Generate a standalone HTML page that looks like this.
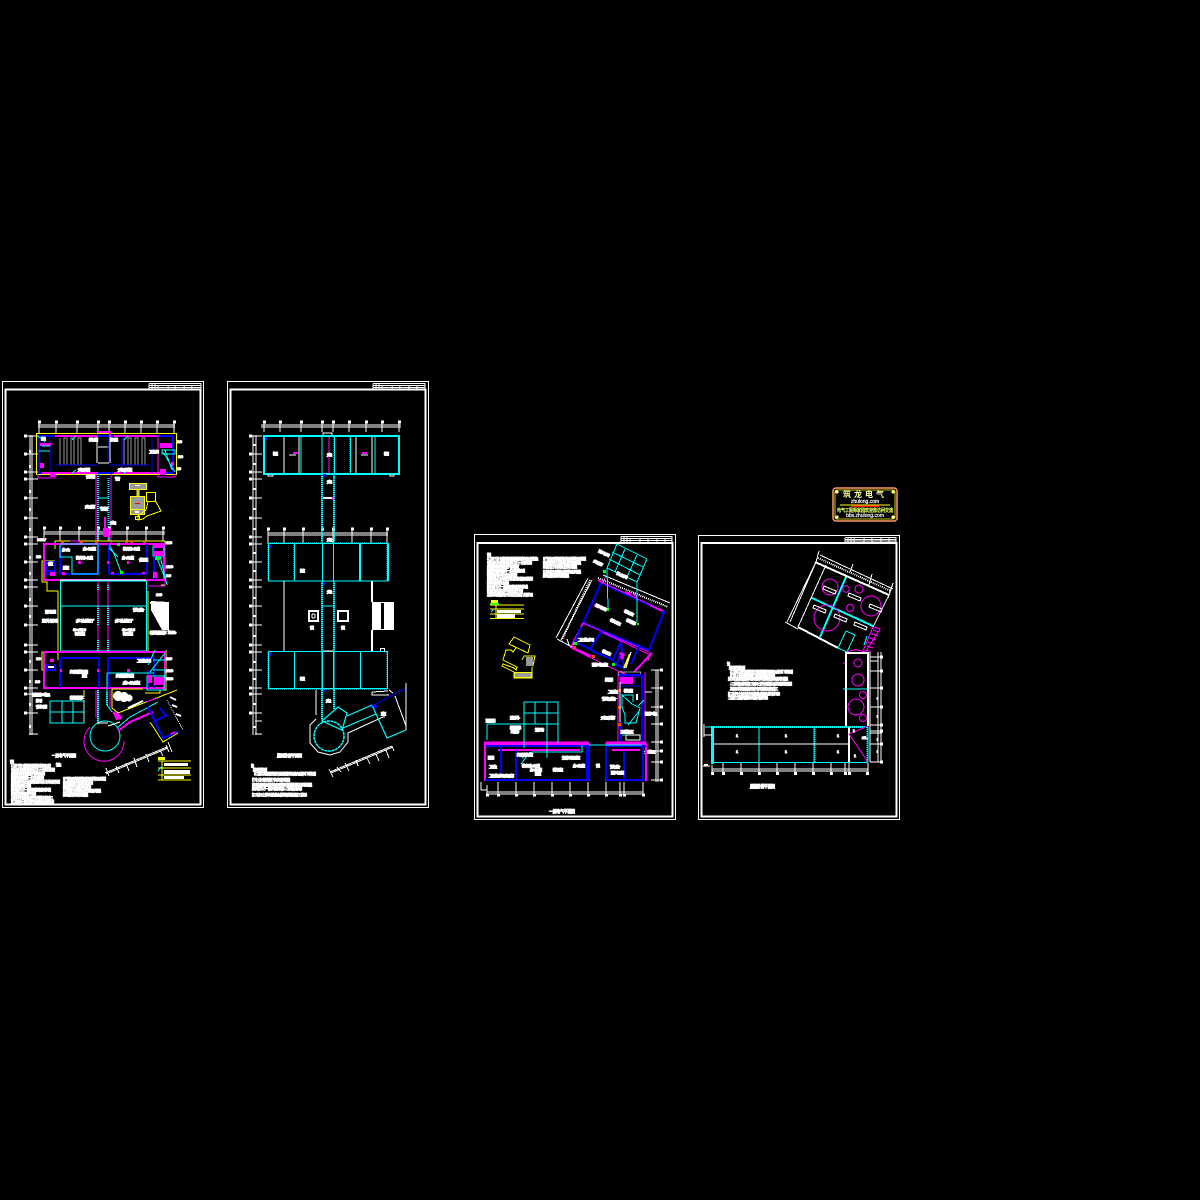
<!DOCTYPE html>
<html lang="zh">
<head>
<meta charset="utf-8">
<title>CAD Drawing Sheets</title>
<style>
html,body{margin:0;padding:0;background:#000;width:1200px;height:1200px;overflow:hidden}
svg{display:block}
path,line,rect,polygon,polyline,circle{fill:none;shape-rendering:crispEdges}
.w{stroke:#fff}.c{stroke:#0ff}.m{stroke:#f0f}.b{stroke:#00f}.y{stroke:#ff0}.g{stroke:#999}
.s1{stroke-width:1}.s2{stroke-width:2}.s3{stroke-width:3}
.d{stroke-dasharray:1 1}
.fo{fill:#f40;stroke:none}.fm{fill:#f0f;stroke:none}.fg{fill:#0f0;stroke:none}.fw{fill:#fff;stroke:none}.fb{fill:#00f;stroke:none}.fgr{fill:#999;stroke:none}.fy{fill:#ff0;stroke:none}
text{font-family:"Liberation Sans","Noto Sans CJK SC",sans-serif}
.t{fill:#fff;stroke:#fff;stroke-width:1;font-size:3.6px}
</style>
</head>
<body>
<svg width="1200" height="1200" viewBox="0 0 1200 1200" xmlns="http://www.w3.org/2000/svg">
<rect width="1200" height="1200" style="fill:#000"/>

<!-- SHEET FRAMES -->
<g class="w s1">
<rect x="2.5" y="381.5" width="201" height="426"/><rect x="5.5" y="389.5" width="195" height="415" class="w s2"/>
<rect x="227.5" y="381.5" width="201" height="426"/><rect x="230.5" y="389.5" width="195" height="415" class="w s2"/>
<rect x="474.5" y="534.5" width="201" height="285"/><rect x="477.5" y="543" width="195" height="273.5" class="w s2"/>
<rect x="698.5" y="535.5" width="201" height="284"/><rect x="701.5" y="543" width="195" height="273.5" class="w s2"/>
</g>
<!-- TITLE BLOCKS -->
<g class="w s1">
<path d="M149 383.5H201V389M149 383.5V389M149 385.5H201M149 387.5H201M152 383V389M155 383V389M158 385V389M168 385V389M175 385V389M184 385V389M192 385V389"/>
<path d="M373 383.5H425V390M373 383.5V390M373 385.5H425M373 387.5H425M376 383V390M379 383V390M382 385V390M392 385V390M400 385V390M409 385V390M417 385V390"/>
<path d="M621 536.5H672V543M621 536.5V543M621 538.5H672M621 540.5H672M624 536V543M627 536V543M630 538V543M640 538V543M648 538V543M657 538V543M665 538V543"/>
<path d="M845 537.5H896V543M845 537.5V543M845 539.5H896M845 541H896M848 537V543M851 537V543M854 538V543M864 538V543M872 538V543M881 538V543M889 538V543"/>
</g>

<!-- ========== SHEET 1 ========== -->
<g class="w s1">
<path d="M38 425H175M38 427H175"/>
<path d="M39 421V433M56 421V433M77 421V433M98 421V433M109 421V433M125 421V433M141 421V433M157 421V433M174 421V433"/>
<path d="M44 532H165M44 534H165"/>
<path d="M44 527V541M60 527V541M79 527V541M98 527V541M109 527V541M127 527V541M146 527V541M163 527V541"/>
<path d="M30 435V735M32 435V735"/>
<path d="M25 436H38M25 454H38M25 472H38M25 479H38M25 498H38M25 518H38M25 537H38M25 544H38M25 562H38M25 580H38M25 587H38M25 606H38M25 625H38M25 645H38M25 652H38M25 670H38M25 688H38M25 694H38M25 713H38M29 734H38"/>
</g>
<path class="w s3" d="M38 422h3M55 422h3M76 422h3M97 422h3M108 422h3M124 422h3M140 422h3M156 422h3M173 422h3M43 528h3M59 528h3M78 528h3M97 528h3M108 528h3M126 528h3M145 528h3M162 528h3M24 436h3M24 454h3M24 472h3M24 479h3M24 498h3M24 518h3M24 537h3M24 544h3M24 562h3M24 580h3M24 587h3M24 606h3M24 625h3M24 645h3M24 652h3M24 670h3M24 688h3M24 694h3M24 713h3"/>
<path class="w s2" d="M30 450v3M30 465v3M30 490v3M30 508v3M30 528v3M30 556v3M30 572v3M30 598v3M30 615v3M30 660v3M30 680v3M30 703v3M30 725v3"/>
<!-- top block -->
<rect class="y s1" x="36.5" y="433.5" width="140" height="41"/>
<rect class="b s2" x="39" y="436" width="134" height="37"/>
<path class="m s2" d="M55 436H98M114 436H157M42 473H98M114 473H160"/>
<path class="m s2" d="M98 432H110V437"/>
<path class="m s1" d="M38 474V478H55V474M158 474V477H175V474M158 436V473"/>
<g class="g s1">
<path d="M60 438V465H64V438H67V465H71V438H74V465H78V438H81V465H84"/>
<path d="M124 438V465H128V438H131V465H135V438H138V465H142V438H145V465H149"/>
</g>
<path class="w s1" d="M97 437V463M110 437V463M98 447H109M98 463H109"/>
<path class="b s1" d="M50 438V473M108 436V462M122 436V473M152 438V473M97 465H55M110 465H150"/>
<rect class="fm" x="40" y="443" width="11" height="3"/><rect class="fm" x="160" y="443" width="12" height="5"/><rect class="fm" x="40" y="463" width="4" height="5"/><rect class="fm" x="50" y="472" width="5" height="5"/><rect class="fm" x="160" y="469" width="6" height="6"/><rect class="fm" x="171" y="462" width="3" height="4"/>
<path class="c s1" d="M42 446H50M39 451H50M38 436L45 442M76 436L72 440M128 436L124 440M162 450H175V454H162ZM163 452L175 472M165 450L172 470M72 473L76 470M124 473L128 470"/>
<g><text class="t" x="41" y="440" textLength="5" lengthAdjust="spacingAndGlyphs">配电</text><text class="t" x="89" y="441" textLength="9" lengthAdjust="spacingAndGlyphs">教室</text><text class="t" x="110" y="441" textLength="8" lengthAdjust="spacingAndGlyphs">教室</text><text class="t" x="149" y="453" textLength="10" lengthAdjust="spacingAndGlyphs">卫生间</text><text class="t" x="78" y="471" textLength="12" lengthAdjust="spacingAndGlyphs">走道</text><text class="t" x="118" y="471" textLength="14" lengthAdjust="spacingAndGlyphs">走道</text><text class="t" x="177" y="443" textLength="5" lengthAdjust="spacingAndGlyphs">10</text><text class="t" x="178" y="458" textLength="5" lengthAdjust="spacingAndGlyphs">10</text><text class="t" x="177" y="470" textLength="4" lengthAdjust="spacingAndGlyphs">10</text></g>
<!-- corridor -->
<path class="m s1" d="M96 474V545M111 474V545"/>
<path class="c s2 d" d="M98 474V541M108.500 478V541"/>
<path class="c s1" d="M98 498H109"/>
<path class="m s2" d="M105 517V536H110"/>
<rect class="fm" x="103" y="528" width="6" height="8"/>
<g><text class="t" x="85" y="508" textLength="10" lengthAdjust="spacingAndGlyphs">走廊</text><text class="t" x="100" y="510" textLength="8" lengthAdjust="spacingAndGlyphs">管</text><text class="t" x="110" y="524" textLength="6" lengthAdjust="spacingAndGlyphs">走</text><text class="t" x="115" y="480" textLength="5" lengthAdjust="spacingAndGlyphs">管</text><text class="t" x="86" y="478" textLength="9" lengthAdjust="spacingAndGlyphs">说明</text></g>
<!-- yellow detail -->
<g>
<rect class="fgr" x="130" y="484" width="16" height="5"/><rect class="fgr" x="131" y="497" width="13" height="13"/><rect class="fgr" x="131" y="510" width="13" height="4"/><rect class="fgr" x="137" y="489" width="2" height="7"/>
<rect class="y s1" x="129.500" y="483.500" width="17" height="6"/><rect class="y s1" x="130.500" y="496.500" width="14" height="13"/><rect class="y s1" x="130.500" y="509.500" width="14" height="5"/>
<path class="y s1" d="M137 490V496M139 490V496"/>
<rect class="y s1" x="146.500" y="492.500" width="9" height="9"/>
<path class="y s1" d="M148 502L146 510L138 516L138 520L143 519L147 516L161 511L155 500"/>
<rect class="y s1" x="135.500" y="516.500" width="4" height="3"/>
<rect class="fw" x="135" y="485" width="5" height="1"/><rect class="fw" x="135" y="511" width="4" height="2"/><rect style="fill:#f00" x="135" y="503" width="5" height="1"/>
</g>
<!-- middle block -->
<path class="y s1" d="M55 549V541H165V585H161M55 541"/>
<path class="y s1" d="M42 582V561H55M42 582H47V591H58V660M148 591V652"/>
<rect class="m s2" x="44" y="544" width="120" height="36" />
<path class="m s1" d="M70 541H79V544M154 544H165V586H148"/>
<path class="b s2" d="M60 544V574M98 544V574M60 574H98M109 544V574M109 574H148M147 544V574M45 562H55V574H45M154 544V580"/>
<path class="c s1" d="M60 544V557H72V574H98V544H60M72 557M60 544H98"/>
<path class="c s1" d="M109 544L115 556L121 572M118 557L109 548M153 546H164V556H153ZM156 556L165 578M160 556L167 585"/>
<rect class="fm" x="78" y="561" width="3" height="3"/><rect class="fm" x="127" y="561" width="2" height="3"/><rect class="fm" x="107" y="561" width="2" height="3"/><rect class="fm" x="50" y="571" width="5" height="5"/><rect class="fm" x="62" y="572" width="3" height="3"/><rect class="fm" x="111" y="572" width="3" height="2"/><rect class="fm" x="142" y="572" width="3" height="2"/><rect class="fm" x="153" y="551" width="11" height="5"/><rect class="fm" x="153" y="544" width="11" height="4"/><rect class="fm" x="153" y="572" width="4" height="6"/><rect class="fg" x="117" y="543" width="3" height="3"/><rect class="fg" x="120" y="571" width="3" height="3"/><rect class="fg" x="155" y="557" width="5" height="3"/>
<rect class="fo" x="95" y="541" width="3" height="2"/><rect class="fo" x="125" y="541" width="3" height="2"/><rect class="fo" x="130" y="541" width="3" height="2"/><rect class="fo" x="143" y="541" width="3" height="2"/><rect class="fo" x="61" y="541" width="3" height="2"/><rect class="fo" x="80" y="541" width="3" height="2"/>
<rect class="b s2" x="46" y="562" width="9" height="9"/>
<g><text class="t" x="62" y="551" textLength="8" lengthAdjust="spacingAndGlyphs">办公</text><text class="t" x="83" y="550" textLength="13" lengthAdjust="spacingAndGlyphs">办公室</text><text class="t" x="76" y="559" textLength="17" lengthAdjust="spacingAndGlyphs">教师办公室</text><text class="t" x="123" y="550" textLength="17" lengthAdjust="spacingAndGlyphs">教师办公室</text><text class="t" x="122" y="559" textLength="12" lengthAdjust="spacingAndGlyphs">办公室</text><text class="t" x="139" y="561" textLength="9" lengthAdjust="spacingAndGlyphs">值班</text><text class="t" x="63" y="569" textLength="6" lengthAdjust="spacingAndGlyphs">室</text><text class="t" x="37" y="541" textLength="9" lengthAdjust="spacingAndGlyphs">10kV</text><text class="t" x="48" y="565" textLength="5" lengthAdjust="spacingAndGlyphs">值</text><text class="t" x="36" y="558" textLength="5" lengthAdjust="spacingAndGlyphs">10</text><text class="t" x="166" y="544" textLength="6" lengthAdjust="spacingAndGlyphs">10</text><text class="t" x="166" y="568" textLength="7" lengthAdjust="spacingAndGlyphs">10</text><text class="t" x="166" y="577" textLength="5" lengthAdjust="spacingAndGlyphs">10</text></g>
<!-- central hall -->
<rect class="c s1" x="60.500" y="581" width="86" height="70"/>
<path class="w s1" d="M60 580H146"/>
<path class="c s1" d="M60 606H146"/>
<path class="m s1" d="M98 581V651M108 581V651"/>
<path class="c s2 d" d="M98 585V591M98 640V651M108 585V591M108 640V651M98 606V625M108 606V625"/>
<g class="fm"><rect x="78" y="586" width="2" height="2"/><rect x="127" y="586" width="2" height="2"/><rect x="78" y="605" width="2" height="2"/><rect x="127" y="605" width="2" height="2"/><rect x="78" y="625" width="2" height="2"/><rect x="127" y="625" width="2" height="2"/><rect x="78" y="644" width="2" height="2"/><rect x="127" y="644" width="2" height="2"/></g>
<g class="fg"><rect x="61" y="623" width="3" height="3"/><rect x="95" y="623" width="3" height="3"/><rect x="109" y="623" width="4" height="3"/><rect x="143" y="623" width="3" height="3"/></g>
<g class="fo"><rect x="57" y="605" width="3" height="3"/><rect x="57" y="624" width="3" height="3"/><rect x="147" y="624" width="3" height="3"/><rect x="57" y="644" width="3" height="3"/></g>
<g><text class="t" x="76" y="622" textLength="18" lengthAdjust="spacingAndGlyphs">多功能厅</text><text class="t" x="115" y="622" textLength="18" lengthAdjust="spacingAndGlyphs">多功能厅</text><text class="t" x="73" y="631" textLength="13" lengthAdjust="spacingAndGlyphs">S=110</text><text class="t" x="122" y="631" textLength="13" lengthAdjust="spacingAndGlyphs">S=110</text><text class="t" x="75" y="635" textLength="10" lengthAdjust="spacingAndGlyphs">教室</text><text class="t" x="123" y="635" textLength="10" lengthAdjust="spacingAndGlyphs">教室</text><text class="t" x="45" y="613" textLength="11" lengthAdjust="spacingAndGlyphs">活动室</text><text class="t" x="42" y="622" textLength="16" lengthAdjust="spacingAndGlyphs">室外活动</text><text class="t" x="133" y="611" textLength="11" lengthAdjust="spacingAndGlyphs">设备</text><text class="t" x="150" y="634" textLength="16" lengthAdjust="spacingAndGlyphs">楼梯</text><text class="t" x="168" y="634" textLength="8" lengthAdjust="spacingAndGlyphs">10</text><text class="t" x="156" y="596" textLength="6" lengthAdjust="spacingAndGlyphs">10</text></g>
<!-- ramp at right -->
<polygon class="fw" points="151,601 169,602 169,630 162,630 151,610"/>
<path class="w s1" d="M150 602L170 632M150 631H175"/>
<!-- lower block -->
<path class="y s1" d="M58 652H42V670H47M166 650V690H160V693H145M47 688H145"/>
<rect class="m s2" x="44" y="652" width="121" height="36"/>
<path class="b s2" d="M60 658V688M60 658H99M99 658V688M108 658V688M108 658H154M154 658V688M46 664V670H55V664M46 670H55M148 670V688"/>
<path class="c s1" d="M107 673H154M107 673V690M153 660H166M153 670H165V678M147 676H164V690H147ZM155 650L148 665M165 653L150 672"/>
<path class="c s1 d" d="M107 673V688"/>
<rect class="fm" x="154" y="677" width="10" height="8"/><rect class="fm" x="148" y="675" width="4" height="8"/><rect class="fm" x="78" y="669" width="3" height="3"/><rect class="fm" x="127" y="669" width="3" height="3"/><rect class="fm" x="60" y="669" width="2" height="3"/><rect class="fm" x="97" y="669" width="2" height="3"/><rect class="fm" x="50" y="659" width="4" height="3"/>
<rect class="fb" x="46" y="664" width="4" height="4"/><rect class="fw" x="48" y="666" width="6" height="2"/>
<g class="fg"><rect x="133" y="657" width="3" height="3"/><rect x="60" y="684" width="3" height="3"/><rect x="87" y="685" width="3" height="3"/><rect x="138" y="685" width="3" height="3"/></g>
<g><text class="t" x="70" y="673" textLength="18" lengthAdjust="spacingAndGlyphs">舞蹈教室</text><text class="t" x="82" y="677" textLength="5" lengthAdjust="spacingAndGlyphs">室</text><text class="t" x="116" y="677" textLength="18" lengthAdjust="spacingAndGlyphs">舞蹈教室</text><text class="t" x="123" y="684" textLength="17" lengthAdjust="spacingAndGlyphs">办公室</text><text class="t" x="137" y="662" textLength="14" lengthAdjust="spacingAndGlyphs">卫生间</text><text class="t" x="166" y="660" textLength="6" lengthAdjust="spacingAndGlyphs">10</text><text class="t" x="166" y="672" textLength="7" lengthAdjust="spacingAndGlyphs">10</text><text class="t" x="166" y="680" textLength="7" lengthAdjust="spacingAndGlyphs">10</text><text class="t" x="36" y="660" textLength="5" lengthAdjust="spacingAndGlyphs">10</text><text class="t" x="35" y="683" textLength="5" lengthAdjust="spacingAndGlyphs">10</text><text class="t" x="33" y="696" textLength="17" lengthAdjust="spacingAndGlyphs">配电</text><text class="t" x="36" y="702" textLength="6" lengthAdjust="spacingAndGlyphs">间</text><text class="t" x="36" y="708" textLength="11" lengthAdjust="spacingAndGlyphs">说明</text><text class="t" x="70" y="699" textLength="13" lengthAdjust="spacingAndGlyphs">楼梯</text></g>
<!-- south yard -->
<rect class="c s1" x="50" y="701" width="34" height="22"/>
<path class="c s1" d="M62 701V723M73 701V723M50 712H84"/>
<path class="w s1 d" d="M84 690V722"/>
<path class="y s1" d="M84 690V696M112 689H143M112 689V708L118 713L177 690"/>
<circle style="fill:#fff;stroke:none" cx="118" cy="696" r="5"/><circle style="fill:#fff;stroke:none" cx="124" cy="697" r="5"/><circle style="fill:#fff;stroke:none" cx="129" cy="698" r="3.500"/>
<!-- circle tail -->
<circle class="c s1" cx="105" cy="736" r="15" style="shape-rendering:auto"/>
<path class="m s1" d="M90 727A20 20 0 1 0 124 741" style="shape-rendering:auto"/>
<path class="c s2 d" d="M98 690V722M107 692V705" />
<path class="m s1" d="M96 690V718M110 690V708"/>
<path class="c s1" d="M98 690V724M107 690V705L112 712"/>
<path class="w s1" d="M97 723H108"/>
<polygon class="fm" points="112,711 120,714 122,719 116,720"/>
<path class="c s1" d="M117 728L130 717L158 702"/>
<path class="m s2" d="M118 731L130 722L153 712"/>
<path class="m s1" d="M145 702L158 698"/>
<path class="w s1" d="M108 726L120 722"/>
<path class="w s2" d="M128 708L143 701"/>
<!-- rotated wing -->
<path class="y s1" d="M150 722L163 742L178 733"/>
<path class="b s2" d="M148 707L163 738L177 732M153 722L167 715M160 708L167 717"/>
<path class="w s1 d" d="M167 700L183 730"/>
<path class="w s2" d="M170 697L176 700M172 705L177 707M176 714L181 716"/>
<path class="m s2" d="M171 734L175 732"/>
<!-- diagonal dim -->
<path class="w s1" d="M105 773L167 747M106 774L168 748"/>
<path class="w s1" d="M106 768L109 776M116 766L119 773M126 763L129 771M134 758L137 767M146 754L149 762M160 750L163 756M166 745L169 752M168 742L172 752"/>
<!-- title + notes sheet 1 -->
<g>
<text class="t" x="52" y="757" textLength="24" lengthAdjust="spacingAndGlyphs" style="font-size:4px">一层电气平面图</text>
<text class="t" x="10" y="763" textLength="4" lengthAdjust="spacingAndGlyphs">说明</text>
<text class="t" x="11" y="767" textLength="40" lengthAdjust="spacingAndGlyphs">本工程电气设计包括照明配电插座线路系统等内容及做法</text>
<text class="t" x="11" y="771" textLength="44" lengthAdjust="spacingAndGlyphs">电源由室外变电所引来电压等级三百八十伏供配电系统说明</text>
<text class="t" x="11" y="775" textLength="34" lengthAdjust="spacingAndGlyphs">所有线路均穿钢管暗敷设于墙内或楼板内</text>
<text class="t" x="11" y="779" textLength="33" lengthAdjust="spacingAndGlyphs">照明配电箱底边距地一点五米暗装安装</text>
<text class="t" x="11" y="783" textLength="49" lengthAdjust="spacingAndGlyphs">插座除注明外均为安全型暗装底边距地零点三米具体做法详见图</text>
<text class="t" x="11" y="787" textLength="20" lengthAdjust="spacingAndGlyphs">接地系统采用联合接地</text>
<text class="t" x="11" y="791" textLength="40" lengthAdjust="spacingAndGlyphs">接地电阻不大于一欧姆利用基础钢筋作接地极</text>
<text class="t" x="11" y="795" textLength="25" lengthAdjust="spacingAndGlyphs">防雷做法详见防雷平面图</text>
<text class="t" x="11" y="799" textLength="42" lengthAdjust="spacingAndGlyphs">其他未尽事宜按国家现行有关规范及规定施工</text>
<text class="t" x="11" y="803" textLength="43" lengthAdjust="spacingAndGlyphs">施工时应与土建及设备专业密切配合预留孔洞</text>
<text class="t" x="56" y="766" textLength="5" lengthAdjust="spacingAndGlyphs">注</text>
<text class="t" x="63" y="780" textLength="43" lengthAdjust="spacingAndGlyphs">电气设备安装高度详见设备材料表及系统图</text>
<text class="t" x="63" y="784" textLength="30" lengthAdjust="spacingAndGlyphs">配电箱安装方式说明及做法</text>
<text class="t" x="63" y="788" textLength="28" lengthAdjust="spacingAndGlyphs">线路敷设方式说明及做法</text>
<text class="t" x="63" y="792" textLength="38" lengthAdjust="spacingAndGlyphs">灯具安装方式说明及做法详见相关图集</text>
<text class="t" x="63" y="796" textLength="25" lengthAdjust="spacingAndGlyphs">接地做法说明详见图集</text>
</g>
<!-- legend 1 -->
<g>
<rect class="fy" x="158" y="757" width="7" height="3"/>
<path class="y s1" d="M158 761H191M162 761V780M158 768H191M158 775H191M158 780H191"/>
<rect class="fw" x="164" y="763" width="24" height="3"/><rect class="fw" x="164" y="770" width="26" height="4"/><rect class="fw" x="164" y="776" width="20" height="3"/>
<path class="c s1" d="M158 771L161 767"/>
</g>

<!-- ========== SHEET 2 ========== -->
<g class="w s1">
<path d="M261 425H401M261 427H401"/>
<path d="M264 421V432M280 422V432M301 422V432M322 421V432M333 421V432M349 421V432M366 421V432M382 421V432M399 421V432"/>
<path d="M268 533H388M268 535H388"/>
<path d="M268 529V543M284 529V543M303 529V543M322 528V543M333 528V543M352 529V543M371 529V543M387 529V543"/>
<path d="M253 435V735M256 435V735"/>
<path d="M249 436H262M249 454H262M249 472H262M249 479H262M249 498H262M249 518H262M249 537H262M249 544H262M249 562H262M249 580H262M249 587H262M249 606H262M249 625H262M249 645H262M249 652H262M249 670H262M249 688H262M249 694H262M249 713H262M255 721H262M255 734H262"/>
</g>
<path class="w s3" d="M263 422h3M279 422h3M300 422h3M321 422h3M332 422h3M348 422h3M365 422h3M381 422h3M398 422h3M267 529h3M283 529h3M302 529h3M321 529h3M332 529h3M351 529h3M370 529h3M386 529h3M249 436h3M249 454h3M249 472h3M249 479h3M249 498h3M249 518h3M249 537h3M249 544h3M249 562h3M249 580h3M249 587h3M249 606h3M249 625h3M249 645h3M249 652h3M249 670h3M249 688h3M249 694h3M249 713h3"/>
<path class="w s3" d="M255 444v2M255 463v2M255 488v2M255 508v2M255 528v2M255 552v2M255 570v2M255 597v2M255 615v2M255 635v2M255 661v2M255 678v2M255 703v2M255 726v2"/>
<!-- top block -->
<rect class="c s2" x="264" y="436" width="135" height="38"/>
<path class="w s1" d="M284 437V473M299 437V473M356 437V473M372 437V473"/>
<path class="c s1" d="M301 437V473M322 437V473M375 437V473"/>
<path class="c s1 d" d="M334 437V473M350 437V473M375 437V473"/>
<path class="c s1" d="M334.500 437V473M350.500 437V473"/>
<path class="m s1" d="M329 437V473"/>
<rect class="fb" x="265" y="437" width="3" height="3"/><rect class="fb" x="323" y="474" width="3" height="3"/>
<rect class="fm" x="293" y="452" width="5" height="2"/><rect class="fm" x="362" y="452" width="5" height="2"/>
<path class="w s1" d="M289 455H296M361 455H368M268 474v2h5v-2M390 474v2h4v-2M323 435v-2h9v2"/>
<g><text class="t" x="273" y="455" textLength="5" lengthAdjust="spacingAndGlyphs">教室</text><text class="t" x="327" y="456" textLength="5" lengthAdjust="spacingAndGlyphs">走</text><text class="t" x="384" y="455" textLength="5" lengthAdjust="spacingAndGlyphs">教室</text><text class="t" x="327" y="483" textLength="5" lengthAdjust="spacingAndGlyphs">走</text></g>
<!-- corridor -->
<path class="c s2 d" d="M322 474V541M334 474V541"/>
<path class="c s1" d="M322 474V542M334 474V542"/>
<path class="w s2" d="M323 498H332"/>
<rect class="fm" x="332" y="497" width="1" height="3"/>
<!-- middle block -->
<rect class="c s1" x="268.500" y="543.500" width="119" height="37.500"/>
<path class="c s1 d" d="M268 543V581M294 543V581M387 543V581M268 543H388"/>
<path class="c s1" d="M294.500 544V580M322.500 544V582M333.500 544V582"/>
<path class="c s2" d="M360 544V581M388 543V581"/>
<g class="fo"><rect x="276" y="541" width="3" height="2"/><rect x="287" y="541" width="3" height="2"/><rect x="300" y="541" width="3" height="2"/><rect x="305" y="541" width="3" height="2"/><rect x="318" y="541" width="3" height="2"/><rect x="335" y="541" width="3" height="2"/><rect x="348" y="541" width="3" height="2"/><rect x="354" y="541" width="3" height="2"/><rect x="367" y="541" width="3" height="2"/>
<rect x="286" y="581" width="3" height="2"/><rect x="300" y="581" width="3" height="2"/><rect x="305" y="581" width="3" height="2"/><rect x="318" y="581" width="3" height="2"/><rect x="335" y="581" width="3" height="2"/><rect x="348" y="581" width="3" height="2"/><rect x="354" y="581" width="3" height="2"/><rect x="367" y="581" width="3" height="2"/>
<rect x="286" y="649" width="3" height="2"/><rect x="300" y="649" width="3" height="2"/><rect x="305" y="649" width="3" height="2"/><rect x="318" y="649" width="3" height="2"/><rect x="335" y="649" width="3" height="2"/><rect x="348" y="649" width="3" height="2"/><rect x="354" y="649" width="3" height="2"/><rect x="367" y="649" width="3" height="2"/>
<rect x="276" y="689" width="3" height="2"/><rect x="287" y="689" width="3" height="2"/><rect x="300" y="689" width="3" height="2"/><rect x="305" y="689" width="3" height="2"/><rect x="318" y="689" width="3" height="2"/><rect x="335" y="689" width="3" height="2"/><rect x="348" y="689" width="3" height="2"/><rect x="354" y="689" width="3" height="2"/><rect x="367" y="689" width="3" height="2"/></g>
<rect class="fb" x="269" y="545" width="3" height="3"/><rect class="fb" x="323" y="582" width="3" height="3"/><rect class="fb" x="269" y="653" width="3" height="3"/><rect class="fb" x="323" y="689" width="3" height="3"/>
<text class="t" x="300" y="572" textLength="5" lengthAdjust="spacingAndGlyphs">教室</text><text class="t" x="327" y="541" textLength="5" lengthAdjust="spacingAndGlyphs">走</text><text class="t" x="327" y="593" textLength="5" lengthAdjust="spacingAndGlyphs">走</text>
<!-- hall -->
<path class="w s1" d="M284 581V651"/>
<path class="w s2" d="M372 581V602M372 630V651"/>
<path class="c s2 d" d="M322 583V651M334 583V651"/>
<path class="c s1" d="M322 581V690M334 581V690M322 606H334"/>
<rect class="w s2" x="309" y="611" width="9" height="10"/><path class="w s1" d="M312 614H315M312 618H315M312 614V618M315 614V618"/>
<rect class="w s2" x="338" y="611" width="10" height="10"/>
<rect style="fill:#fff" x="372" y="602" width="22" height="28"/><rect style="fill:#000" x="381" y="603" width="3" height="26"/>
<text class="t" x="310" y="629" textLength="4" lengthAdjust="spacingAndGlyphs">说</text><text class="t" x="341" y="629" textLength="4" lengthAdjust="spacingAndGlyphs">说</text>
<rect class="w s1" x="380.500" y="648.500" width="4" height="3"/>
<!-- lower block -->
<rect class="c s1" x="268.500" y="651.500" width="119" height="37"/>
<path class="w s1" d="M323 651H333"/>
<path class="c s1 d" d="M268 652V688M387 652V688M268 689H388"/>
<path class="c s1" d="M294.500 652V688M322.500 652V690M333.500 652V690M360.500 652V688"/>
<text class="t" x="300" y="680" textLength="5" lengthAdjust="spacingAndGlyphs">教室</text>
<path class="w s1" d="M316 690V715"/>
<path class="c s2 d" d="M322 690V720M334 690V709"/>
<path class="c s1" d="M322 690V722M334 690V709"/>
<text class="t" x="326" y="702" textLength="5" lengthAdjust="spacingAndGlyphs">走</text>
<!-- circle & wing -->
<circle class="c" cx="329" cy="736" r="15" style="shape-rendering:auto;stroke-width:1.500;stroke-dasharray:3 .6"/>
<path class="w s1" d="M316 719L310 725V743L318 752L330 755L340 752L348 742V733L383 717H385" style="shape-rendering:auto"/>
<path class="c" d="M322 721L338 707L347 713L342 730L322 721" style="shape-rendering:auto;stroke-width:1.200"/>
<path class="c" d="M347 716L372 705M343 728L376 714M372 705L387 738L406 730" style="stroke-width:1.200;shape-rendering:auto"/>
<path class="b s1" d="M370 707L406 688"/>
<path class="w s1" d="M406 683V730M395 696L406 726"/>
<path class="w s1" d="M372 692L388 691M372 692V695H389M389 690L393 693"/>
<rect class="fb" x="374" y="705" width="3" height="3"/>
<g class="fm"><rect x="328" y="722" width="3" height="3"/><rect x="334" y="723" width="2" height="3"/><rect x="341" y="720" width="2" height="2"/><rect x="327" y="714" width="2" height="2"/><rect x="361" y="711" width="3" height="2"/><rect x="360" y="715" width="2" height="2"/><rect x="316" y="733" width="2" height="3"/><rect x="321" y="730" width="2" height="2"/><rect x="324" y="740" width="2" height="2"/><rect x="335" y="736" width="2" height="2"/><rect x="338" y="741" width="2" height="3"/></g>
<text class="t" x="381" y="715" textLength="5" lengthAdjust="spacingAndGlyphs">室</text>
<path class="w s1" d="M330 772L392 746M331 773L393 747"/>
<path class="w s1" d="M329 769L333 777M337 767L341 772M345 763L349 771M356 760L358 766M367 758L370 764M376 754L379 761M386 750L389 758M392 746L394 751"/>
<!-- title + notes sheet 2 -->
<g>
<text class="t" x="277" y="757" textLength="25" lengthAdjust="spacingAndGlyphs" style="font-size:4px">屋面防雷平面图</text>
<text class="t" x="251" y="767" textLength="3" lengthAdjust="spacingAndGlyphs">注</text>
<text class="t" x="253" y="771" textLength="14" lengthAdjust="spacingAndGlyphs">防雷说明</text>
<text class="t" x="254" y="775" textLength="62" lengthAdjust="spacingAndGlyphs">本工程按三类防雷建筑物设计屋面设避雷带利用柱内主筋作引下线详见图</text>
<text class="t" x="252" y="781" textLength="38" lengthAdjust="spacingAndGlyphs">引下线上端与避雷带焊接下端与接地极可靠连接</text>
<text class="t" x="252" y="786" textLength="60" lengthAdjust="spacingAndGlyphs">所有突出屋面的金属物体均应与避雷带可靠焊接做法详见相关标准图集</text>
<text class="t" x="252" y="790" textLength="50" lengthAdjust="spacingAndGlyphs">接地电阻不大于一欧姆不满足时增设人工接地极及接地体</text>
<text class="t" x="252" y="796" textLength="55" lengthAdjust="spacingAndGlyphs">施工时应与土建专业密切配合做好预留预埋及隐蔽工程记录</text>
</g>

<!-- ========== SHEET 3 ========== -->
<g>
<text class="t" x="487" y="556" textLength="4" lengthAdjust="spacingAndGlyphs">说明</text>
<text class="t" x="487" y="560" textLength="46" lengthAdjust="spacingAndGlyphs">本工程电气设计包括照明配电插座线路系统等内容及做法</text>
<text class="t" x="487" y="564" textLength="45" lengthAdjust="spacingAndGlyphs">电源由室外变电所引来电压等级三百八十伏供配电系统</text>
<text class="t" x="487" y="568" textLength="32" lengthAdjust="spacingAndGlyphs">所有线路均穿钢管暗敷设于墙内或楼板</text>
<text class="t" x="487" y="572" textLength="38" lengthAdjust="spacingAndGlyphs">照明配电箱底边距地一点五米暗装安装</text>
<text class="t" x="487" y="576" textLength="30" lengthAdjust="spacingAndGlyphs">插座除注明外均为安全型暗装</text>
<text class="t" x="487" y="580" textLength="46" lengthAdjust="spacingAndGlyphs">底边距地零点三米具体做法详见相关标准图集及规范说明</text>
<text class="t" x="487" y="584" textLength="22" lengthAdjust="spacingAndGlyphs">接地系统采用联合接地</text>
<text class="t" x="487" y="588" textLength="41" lengthAdjust="spacingAndGlyphs">接地电阻不大于一欧姆利用基础钢筋作接地极</text>
<text class="t" x="487" y="592" textLength="36" lengthAdjust="spacingAndGlyphs">防雷做法详见防雷平面图及设计说明</text>
<text class="t" x="487" y="596" textLength="46" lengthAdjust="spacingAndGlyphs">其他未尽事宜按国家现行有关规范及规定施工并做好记录</text>
<text class="t" x="533" y="560" textLength="5" lengthAdjust="spacingAndGlyphs">注</text>
<text class="t" x="543" y="560" textLength="43" lengthAdjust="spacingAndGlyphs">电气设备安装高度详见设备材料表及系统图</text>
<text class="t" x="543" y="564" textLength="38" lengthAdjust="spacingAndGlyphs">配电箱安装方式说明及做法详见图集</text>
<text class="t" x="543" y="568" textLength="34" lengthAdjust="spacingAndGlyphs">线路敷设方式说明及做法详见图集</text>
<text class="t" x="543" y="573" textLength="38" lengthAdjust="spacingAndGlyphs">灯具安装方式说明及做法详见相关图集</text>
<text class="t" x="543" y="577" textLength="26" lengthAdjust="spacingAndGlyphs">接地做法说明详见图集</text>
</g>
<!-- legend 3 -->
<g>
<rect class="fy" x="491" y="600" width="7" height="3"/><rect class="fg" x="490" y="603" width="9" height="2"/>
<path class="y s1" d="M490 605H524M496 605V618M490 609H524M490 614H524M490 618.500H524"/>
<rect class="fw" x="497" y="610" width="24" height="3"/><rect class="fw" x="497" y="614" width="18" height="4"/>
<path class="c s1" d="M491 612L494 609"/>
</g>
<!-- yellow detail -->
<g class="y s1">
<path d="M514 637L509 644L528 653L530 645ZM516 648L513 652L511 650L506 650L503 660L517 667L516 670L514 668L503 664L502 666L514 672L514 678H532V667"/>
<path d="M522 660L524 656L535 656L533 666L528 663"/>
</g>
<rect class="fgr" x="515" y="673" width="17" height="5"/>
<rect class="fgr" x="526" y="657" width="7" height="9"/>
<rect class="y s1" x="514.500" y="672.500" width="17" height="5"/>
<!-- rotated block -->
<polygon class="b s2" points="601,583 664,612 649,650 583,623"/>
<path class="m s1" d="M599 581L664 611M583 623L649 652M602 584L606 576"/>
<path class="m s2" d="M598 580L604 583M625 592L631 594M633 593L637 597M650 605L662 611M594 605L599 608M583 623L571 647L591 656"/>
<path class="b s2" d="M581 627L575 642L590 649L601 632M590 649L600 655M601 632L621 641L613 660L600 654M621 641L624 670M613 661L622 668"/>
<path class="m s1" d="M571 648L620 672M602 632L650 655M650 652L648 661"/>
<path class="m s2" d="M620 671L626 675M634 672L652 653"/>
<path class="w s1" d="M603 575L670 603M592 580L561 640M588 578L556 638M567 639L569 645M557 639L572 647"/>
<path class="w s2 d" d="M598 578L668 607M590 580L562 640"/>
<path class="c s1" d="M617 544L647 559L637 582L607 568ZM609 559L640 575M612 552L643 567M625 549L615 572M637 555L627 577M607 568L608 608M637 582L637 622"/>
<rect class="fg" x="606" y="608" width="3" height="3"/><rect class="fg" x="637" y="623" width="2" height="2"/><rect class="fg" x="603" y="570" width="3" height="3"/><rect class="fg" x="573" y="642" width="4" height="3"/><rect class="fg" x="612" y="663" width="3" height="3"/>
<rect class="fo" x="592" y="655" width="3" height="3"/><rect class="fo" x="573" y="646" width="3" height="3"/>
<polygon class="fm" points="620,652 625,654 623,660 618,657"/>
<path class="y s2" d="M630 654L624 668" style="shape-rendering:auto"/>
<path class="w s1" d="M631 652L626 668"/>
<path class="b s2" d="M620 655L616 667M639 647L631 664"/>
<g>
<text class="t" transform="translate(598 552) rotate(25)" textLength="12" lengthAdjust="spacingAndGlyphs">配电间</text>
<text class="t" transform="translate(593 562) rotate(25)" textLength="10" lengthAdjust="spacingAndGlyphs">走廊</text>
<text class="t" transform="translate(616 574) rotate(25)" textLength="12" lengthAdjust="spacingAndGlyphs">设备间</text>
<text class="t" transform="translate(595 606) rotate(25)" textLength="12" lengthAdjust="spacingAndGlyphs">活动室</text>
<text class="t" transform="translate(624 612) rotate(25)" textLength="10" lengthAdjust="spacingAndGlyphs">教室</text>
<text class="t" transform="translate(610 621) rotate(25)" textLength="11" lengthAdjust="spacingAndGlyphs">教室</text>
<text class="t" transform="translate(626 621) rotate(25)" textLength="10" lengthAdjust="spacingAndGlyphs">楼梯</text>
<text class="t" transform="translate(602 652) rotate(25)" textLength="9" lengthAdjust="spacingAndGlyphs">教室</text>
<text class="t" x="578" y="641" textLength="16" lengthAdjust="spacingAndGlyphs">卫生间</text>
<text class="t" x="592" y="666" textLength="16" lengthAdjust="spacingAndGlyphs">配电室</text>
</g>
<!-- east tower -->
<rect class="g s1" x="618.500" y="672" width="22" height="3"/>
<path class="m s1" d="M618 672V742M645 672V742"/>
<path class="b s2" d="M620 675H642M642 675V745M621 675V682M621 722V742"/>
<rect class="b s1" x="620" y="677" width="22" height="9"/>
<rect class="fm" x="620" y="677" width="13" height="7"/>
<rect class="fo" x="618" y="689" width="3" height="3"/><rect class="fo" x="618" y="706" width="3" height="3"/><rect class="fo" x="618" y="723" width="3" height="3"/>
<path class="c s1" d="M622 695H633V702M622 695V707L625 715V723H636L640 708L632 704ZM640 710L628 725M638 706L644 700M622 735H640"/>
<g class="fg"><rect x="622" y="706" width="3" height="2"/><rect x="632" y="706" width="3" height="2"/><rect x="622" y="717" width="3" height="2"/><rect x="632" y="717" width="3" height="2"/><rect x="622" y="728" width="3" height="2"/><rect x="632" y="728" width="3" height="2"/></g>
<rect class="fw" x="636" y="694" width="2" height="6"/>
<path class="w s1" d="M626 735H640V740H626ZM620 682V722"/>
<g>
<text class="t" x="605" y="681" textLength="8" lengthAdjust="spacingAndGlyphs">楼梯</text>
<text class="t" x="608" y="693" textLength="10" lengthAdjust="spacingAndGlyphs">卫生</text>
<text class="t" x="602" y="700" textLength="14" lengthAdjust="spacingAndGlyphs">设备</text>
<text class="t" x="601" y="719" textLength="14" lengthAdjust="spacingAndGlyphs">走廊</text>
<text class="t" x="624" y="692" textLength="9" lengthAdjust="spacingAndGlyphs">教室</text>
<text class="t" x="621" y="733" textLength="12" lengthAdjust="spacingAndGlyphs">室</text>
<text class="t" x="645" y="715" textLength="12" lengthAdjust="spacingAndGlyphs">配电</text>
<text class="t" x="645" y="753" textLength="10" lengthAdjust="spacingAndGlyphs">走</text>
</g>
<!-- right dim -->
<path class="w s1" d="M656 670V782M658 670V782M651 670H662M651 688H662M651 707H662M651 724H662M651 742H662M651 751H662M651 762H662M651 780H662M645 692H652M645 753H652"/>
<path class="w s3" d="M660 670h3M660 688h3M660 707h3M660 724h3M660 742h3M660 751h3M660 762h3M660 780h3"/>
<!-- south block -->
<rect class="m s2" x="485" y="744" width="104" height="36"/>
<rect class="m s2" x="606" y="744" width="40" height="36"/>
<path class="m s3" d="M484 743H589M606 743H646"/>
<path class="m s2" d="M498 750H580M612 750H640"/>
<path class="b s2" d="M486 746H589V780M501 747V778M516 750V780M589 745V780M587 746V780M606 746H646M606 746V780M624 751V780M643 746V780M485 780H589M606 780H645"/>
<path class="c s1" d="M524 702H558V724H524ZM524 713H558M535 702V724M547 702V724M524 724V748M547 724V758M558 724V743M487 724H524M487 724V740"/>
<path class="c s1" d="M522 758L532 752L582 752L582 745M530 752L521 764M589 745H605M606 745H642"/>
<g class="fg"><rect x="516" y="763" width="4" height="3"/><rect x="536" y="749" width="3" height="4"/><rect x="549" y="763" width="6" height="3"/><rect x="558" y="748" width="3" height="3"/><rect x="570" y="750" width="3" height="3"/><rect x="570" y="763" width="3" height="3"/><rect x="622" y="767" width="3" height="4"/><rect x="487" y="769" width="2" height="4"/><rect x="486" y="737" width="5" height="3"/></g>
<g class="fm"><rect x="496" y="749" width="3" height="4"/><rect x="527" y="768" width="2" height="3"/><rect x="550" y="770" width="3" height="7"/><rect x="568" y="770" width="3" height="7"/><rect x="487" y="752" width="4" height="5"/><rect x="614" y="749" width="8" height="3"/><rect x="629" y="748" width="7" height="3"/><rect x="632" y="770" width="5" height="5"/></g>
<g class="fo"><rect x="499" y="780" width="3" height="2"/><rect x="512" y="780" width="3" height="2"/><rect x="518" y="780" width="3" height="2"/><rect x="531" y="780" width="3" height="2"/><rect x="536" y="780" width="3" height="2"/><rect x="549" y="780" width="3" height="2"/><rect x="554" y="780" width="3" height="2"/><rect x="567" y="780" width="3" height="2"/><rect x="572" y="780" width="3" height="2"/><rect x="584" y="780" width="3" height="2"/><rect x="608" y="780" width="3" height="2"/><rect x="620" y="780" width="3" height="2"/></g>
<g>
<text class="t" x="486" y="722" textLength="9" lengthAdjust="spacingAndGlyphs">配</text>
<text class="t" x="510" y="719" textLength="10" lengthAdjust="spacingAndGlyphs">室外</text>
<text class="t" x="510" y="729" textLength="11" lengthAdjust="spacingAndGlyphs">楼梯</text>
<text class="t" x="511" y="733" textLength="8" lengthAdjust="spacingAndGlyphs">场</text>
<text class="t" x="535" y="731" textLength="9" lengthAdjust="spacingAndGlyphs">活动</text>
<text class="t" x="517" y="756" textLength="16" lengthAdjust="spacingAndGlyphs">舞蹈教室</text>
<text class="t" x="522" y="767" textLength="18" lengthAdjust="spacingAndGlyphs">教师办公室</text>
<text class="t" x="530" y="771" textLength="12" lengthAdjust="spacingAndGlyphs">办公室</text>
<text class="t" x="535" y="775" textLength="6" lengthAdjust="spacingAndGlyphs">室</text>
<text class="t" x="562" y="759" textLength="18" lengthAdjust="spacingAndGlyphs">活动室</text>
<text class="t" x="573" y="767" textLength="12" lengthAdjust="spacingAndGlyphs">办公室</text>
<text class="t" x="553" y="771" textLength="10" lengthAdjust="spacingAndGlyphs">教室</text>
<text class="t" x="488" y="759" textLength="6" lengthAdjust="spacingAndGlyphs">配</text>
<text class="t" x="489" y="768" textLength="8" lengthAdjust="spacingAndGlyphs">卫生</text>
<text class="t" x="489" y="777" textLength="25" lengthAdjust="spacingAndGlyphs">卫生间走廊</text>
<text class="t" x="610" y="768" textLength="10" lengthAdjust="spacingAndGlyphs">设备</text>
<text class="t" x="611" y="774" textLength="13" lengthAdjust="spacingAndGlyphs">配电室</text>
<text class="t" x="596" y="767" textLength="4" lengthAdjust="spacingAndGlyphs">说</text>
</g>
<!-- bottom dim -->
<path class="w s1" d="M487 792H643M487 794H643"/>
<path class="w s1" d="M498 782V796M516 782V796M534 782V796M552 782V796M570 782V796M588 782V796M606 782V796M620 782V796M624 782V796M643 782V796M487 785V796M481 782V790H487"/>
<path class="w s3" d="M486 795h3M497 795h3M515 795h3M533 795h3M551 795h3M569 795h3M587 795h3M605 795h3M619 795h3M623 795h3M642 795h3"/>
<text class="t" x="549" y="813" textLength="26" lengthAdjust="spacingAndGlyphs" style="font-size:4.500px">一层电气平面图</text>

<!-- ========== SHEET 4 ========== -->
<path class="w s2" d="M815 562L889 595"/>
<path class="w s2 d" d="M818 558L891 591"/>
<path class="w s1" d="M826 565L798 627M889 595L873 627"/>
<path class="w s2" d="M798 627L838 648"/>
<path class="w s1" d="M816 562L790 622M785 622L798 629M819 551L816 562M853 564L850 572M872 574L869 585M893 583L888 598M820 555L893 589"/>
<path class="w s1" d="M787 622L815 564"/>
<path class="c s2" d="M812 598L873 626"/>
<path class="c s2" d="M846 577L820 637" />
<path class="c s1" d="M846 631L855 635L847 652L838 648ZM847 652L845 652"/>
<g>
<circle class="m s1" cx="830" cy="587" r="8" style="shape-rendering:auto"/>
<circle class="m s1" cx="846" cy="589" r="3.300" style="shape-rendering:auto"/>
<circle class="m s1" cx="859" cy="589" r="4" style="shape-rendering:auto"/>
<circle class="m s1" cx="871" cy="606" r="10" style="shape-rendering:auto"/>
<circle class="m s1" cx="850" cy="608" r="3.500" style="shape-rendering:auto"/>
<circle class="m s1" cx="827" cy="618" r="13" style="shape-rendering:auto"/>
<circle class="m s1" cx="858" cy="663" r="4" style="shape-rendering:auto"/>
<circle class="m s1" cx="858" cy="680" r="6" style="shape-rendering:auto"/>
<circle class="m s1" cx="863" cy="695" r="3.500" style="shape-rendering:auto"/>
<circle class="m s1" cx="856" cy="707" r="8" style="shape-rendering:auto"/>
<circle class="m s1" cx="863" cy="718" r="3.500" style="shape-rendering:auto"/>
</g>
<g class="w s1">
<polygon points="824,586 836,591 835,594 823,589"/>
<polygon points="849,593 861,598 860,601 848,596"/>
<polygon points="870,604 882,609 881,612 869,607"/>
<polygon points="814,605 826,610 825,613 813,608"/>
<polygon points="835,614 847,619 846,622 834,617"/>
<polygon points="855,622 867,627 866,630 854,625"/>
</g>
<!-- stair -->
<path class="m s1" d="M874 627L880 629L866 651L863 652M873 630L879 632M872 634L878 636M870 638L876 640M868 642L875 644M867 646L873 648M866 650L871 652M873 627L863 651"/>
<path class="m s1" d="M847 652Q856 648 864 652M843 663H846"/>
<path class="c s1" d="M864 645L867 636" />
<!-- vertical block -->
<path class="w s2" d="M846 652V726M868 652V726M846 653H868"/>
<path class="c s1" d="M846 689H868"/>
<path class="c s1" d="M843 689H847"/>
<path class="w s1" d="M870 652V762M878 652V762M881 652V762"/>
<path class="w s1" d="M870 657H882M870 661H878M870 671H882M870 688H882M870 707H882M870 725H882M870 731H882M870 733H882M870 744H882M870 762H882"/>
<path class="w s3" d="M880 657h3M880 671h3M880 688h3M880 707h3M880 725h3M880 731h3M880 744h3M880 762h3"/>
<path class="w s1" d="M877 697v3M877 715v3M877 738v3M877 750v3"/>
<!-- horizontal block -->
<path class="c s2 d" d="M712 727H868"/>
<path class="c s1" d="M712 727H868"/>
<rect class="c s2" x="712" y="727" width="1" height="36"/>
<path class="c s1" d="M712 762.500H868M759 727V762M814 727V762M849 727V762M868 727V762"/>
<path class="c s1 d" d="M815 727V762M867 727V762"/>
<path class="w s1" d="M713 744H848"/>
<path class="w s2" d="M849 727V762"/>
<path class="w s1" d="M704 724V737M704 735H712M703 766H710"/>
<rect class="fw" x="704" y="764" width="4" height="2"/>
<path class="m s1" d="M849 734L868 762M849 734L868 726"/>
<path class="c s1" d="M712 727H705"/>
<g class="fw"><rect x="730" y="726" width="4" height="2"/><rect x="770" y="726" width="3" height="2"/><rect x="784" y="726" width="3" height="2"/><rect x="837" y="726" width="3" height="2"/><rect x="730" y="760" width="4" height="2"/><rect x="770" y="760" width="3" height="2"/><rect x="784" y="760" width="3" height="2"/><rect x="837" y="760" width="3" height="2"/></g>
<g><text class="t" x="736" y="737" textLength="2" lengthAdjust="spacingAndGlyphs">1</text><text class="t" x="736" y="753" textLength="2" lengthAdjust="spacingAndGlyphs">1</text><text class="t" x="785" y="737" textLength="2" lengthAdjust="spacingAndGlyphs">1</text><text class="t" x="785" y="753" textLength="2" lengthAdjust="spacingAndGlyphs">1</text><text class="t" x="837" y="737" textLength="2" lengthAdjust="spacingAndGlyphs">1</text><text class="t" x="837" y="753" textLength="2" lengthAdjust="spacingAndGlyphs">1</text><text class="t" x="853" y="732" textLength="2" lengthAdjust="spacingAndGlyphs">1</text><text class="t" x="854" y="757" textLength="2" lengthAdjust="spacingAndGlyphs">1</text><text class="t" x="862" y="739" textLength="5" lengthAdjust="spacingAndGlyphs">1</text></g>
<g class="fo"><rect x="725" y="763" width="3" height="2"/><rect x="737" y="763" width="3" height="2"/><rect x="743" y="763" width="3" height="2"/><rect x="756" y="763" width="3" height="2"/><rect x="761" y="763" width="3" height="2"/><rect x="774" y="763" width="3" height="2"/><rect x="779" y="763" width="3" height="2"/><rect x="792" y="763" width="3" height="2"/><rect x="797" y="763" width="3" height="2"/><rect x="810" y="763" width="3" height="2"/><rect x="815" y="763" width="3" height="2"/><rect x="828" y="763" width="3" height="2"/><rect x="833" y="763" width="3" height="2"/><rect x="846" y="763" width="3" height="2"/></g>
<!-- bottom dim 4 -->
<path class="w s1" d="M712 769H868M712 771H868M723 763V775M741 763V775M759 763V775M777 763V775M795 763V775M813 763V775M831 763V775M845 763V775M849 763V775M868 763V775M712 765V775"/>
<path class="w s3" d="M711 773.500h3M722 773.500h3M740 773.500h3M758 773.500h3M776 773.500h3M794 773.500h3M812 773.500h3M830 773.500h3M844 773.500h3M848 773.500h3M866 773.500h3"/>
<!-- notes 4 -->
<g>
<text class="t" x="727" y="665" textLength="3" lengthAdjust="spacingAndGlyphs">注</text>
<text class="t" x="729" y="669" textLength="16" lengthAdjust="spacingAndGlyphs">防雷说明</text>
<text class="t" x="730" y="673" textLength="63" lengthAdjust="spacingAndGlyphs">本工程按三类防雷建筑物设计屋面设避雷带利用柱内主筋作引下线详见图</text>
<text class="t" x="730" y="677" textLength="45" lengthAdjust="spacingAndGlyphs">引下线上端与避雷带焊接下端与接地极可靠连接</text>
<text class="t" x="728" y="680" textLength="60" lengthAdjust="spacingAndGlyphs">所有突出屋面的金属物体均应与避雷带可靠焊接做法详见相关标准图集</text>
<text class="t" x="730" y="685" textLength="62" lengthAdjust="spacingAndGlyphs">人工接地极及接地体施工时应与土建专业密切配合做好预留预埋及隐蔽</text>
<text class="t" x="730" y="690" textLength="48" lengthAdjust="spacingAndGlyphs">其他未尽事宜按国家现行有关规范及规定施工</text>
<text class="t" x="728" y="695" textLength="52" lengthAdjust="spacingAndGlyphs">施工时应与土建及设备专业密切配合预留孔洞并做好记录</text>
<text class="t" x="728" y="699" textLength="40" lengthAdjust="spacingAndGlyphs">工程竣工后应实测接地电阻并做好记录</text>
</g>
<text class="t" x="750" y="788" textLength="25" lengthAdjust="spacingAndGlyphs" style="font-size:4.500px">屋面防雷平面图</text>

<!-- BADGE -->
<rect x="833" y="488" width="64" height="33" rx="3" style="fill:#000;stroke:#f96;stroke-width:1.500;shape-rendering:auto"/>
<rect x="835" y="490" width="60" height="29" rx="2" style="fill:none;stroke:#ff0;stroke-width:.8;shape-rendering:auto"/>
<circle cx="837" cy="492" r="1.500" style="fill:#ffb;stroke:none"/><circle cx="893" cy="492" r="1.500" style="fill:#ffb;stroke:none"/><circle cx="837" cy="517" r="1.500" style="fill:#ffb;stroke:none"/><circle cx="893" cy="517" r="1.500" style="fill:#ffb;stroke:none"/>
<text x="865" y="497" text-anchor="middle" style="fill:#ffffa0;font-size:8px;letter-spacing:3px;font-weight:bold">筑龙电气</text>
<text x="865" y="503" text-anchor="middle" style="fill:#fff;font-size:5px;stroke:#fff;stroke-width:.2">zhulong.com</text>
<rect x="851" y="505" width="28" height="2" style="fill:#f00;stroke:none"/>
<path d="M840 505H890" style="stroke:#ff0;stroke-width:.6"/>
<text x="865" y="512" text-anchor="middle" textLength="56" lengthAdjust="spacingAndGlyphs" style="fill:#dfff60;font-size:5px;stroke:#dfff60;stroke-width:.3">电气工程师家园欢迎您访问交流</text>
<text x="865" y="517" text-anchor="middle" style="fill:#fff;font-size:5px;stroke:#fff;stroke-width:.2">bbs.zhulong.com</text>
</svg>
</body>
</html>
